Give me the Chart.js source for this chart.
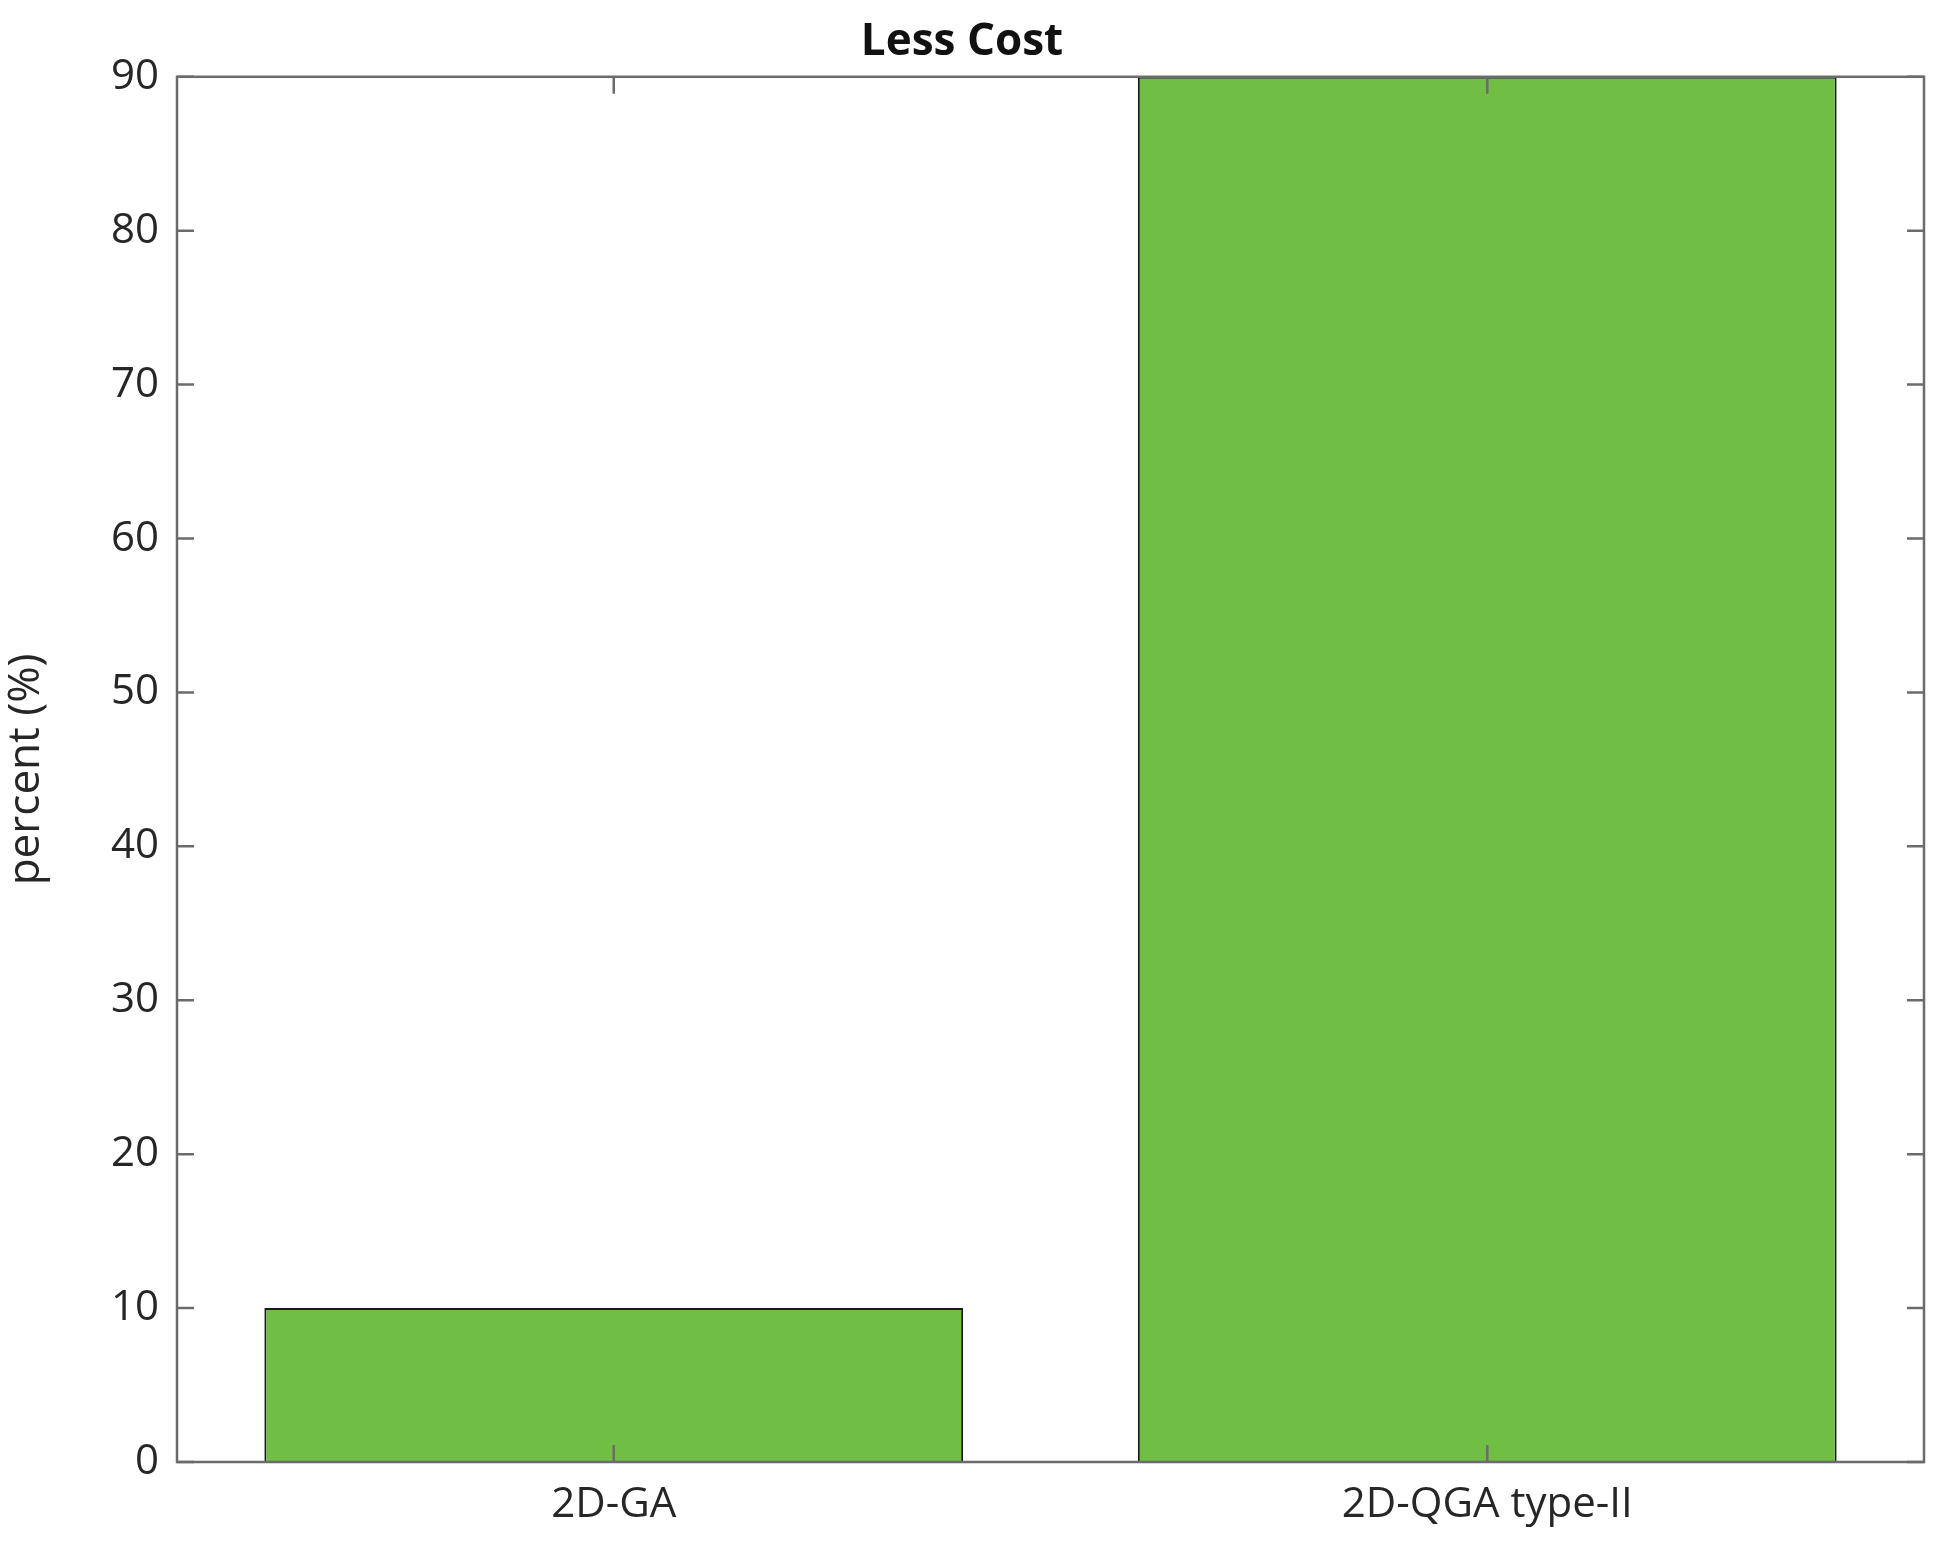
<!DOCTYPE html>
<html>
<head>
<meta charset="utf-8">
<script src="https://cdn.jsdelivr.net/npm/chart.js@4"></script>
<style>
  html, body { margin: 0; padding: 0; background: #fff; }
  #wrap { width: 1943px; height: 1560px; }
</style>
</head>
<body>
<div id="wrap"><canvas id="lessCostChart"></canvas></div>
<script>
const categories = ['2D-GA', '2D-QGA type-II'];
const percentValues = [10, 90];
const yTicks = [0, 10, 20, 30, 40, 50, 60, 70, 80, 90];

const textColor = '#262626';
const frameColor = '#6b6b6b';

// draws the box around the plot and MATLAB-style inward ticks
const framePlugin = {
    id: 'frame',
    afterDatasetsDraw(chart) {
        const { ctx, chartArea: a, scales } = chart;
        ctx.save();
        ctx.strokeStyle = frameColor;
        ctx.lineWidth = 2.5;
        ctx.strokeRect(a.left, a.top, a.right - a.left, a.bottom - a.top);
        const len = 17;
        yTicks.forEach(v => {
            const y = scales.y.getPixelForValue(v);
            ctx.beginPath();
            ctx.moveTo(a.left, y); ctx.lineTo(a.left + len, y);
            ctx.moveTo(a.right, y); ctx.lineTo(a.right - len, y);
            ctx.stroke();
        });
        categories.forEach((c, i) => {
            const x = scales.x.getPixelForValue(i);
            ctx.beginPath();
            ctx.moveTo(x, a.bottom); ctx.lineTo(x, a.bottom - len);
            ctx.moveTo(x, a.top); ctx.lineTo(x, a.top + len);
            ctx.stroke();
        });
        ctx.restore();
    }
};

new Chart(document.getElementById('lessCostChart'), {
    type: 'bar',
    data: {
        labels: categories,
        datasets: [{
            label: 'percent',
            data: percentValues,
            backgroundColor: '#70bf44',
            borderColor: '#1a1a1a',
            borderWidth: 2,
            barPercentage: 0.8,
            categoryPercentage: 1.0
        }]
    },
    options: {
        responsive: true,
        maintainAspectRatio: false,
        animation: false,
        layout: { padding: { right: 19, left: 0, top: 0, bottom: 0 } },
        plugins: {
            legend: { display: false },
            tooltip: { enabled: false },
            title: {
                display: true,
                text: 'Less Cost',
                color: '#111',
                font: { family: 'Open Sans', size: 44 },
                padding: { top: 16, bottom: 8 }
            }
        },
        scales: {
            x: {
                grid: { display: false, drawTicks: false },
                border: { display: false },
                ticks: { color: textColor, font: { family: 'Open Sans', size: 42 }, padding: 18 },
                afterFit(scale) { scale.height = 98; }
            },
            y: {
                min: 0,
                max: 90,
                grid: { display: false, drawTicks: false },
                border: { display: false },
                afterBuildTicks(scale) { scale.ticks = yTicks.map(v => ({ value: v })); },
                ticks: { color: textColor, font: { family: 'Open Sans', size: 42 }, padding: 18 },
                title: {
                    display: true,
                    text: 'percent (%)',
                    color: textColor,
                    font: { family: 'Open Sans', size: 44 },
                    padding: { top: 0, bottom: 6 }
                },
                afterFit(scale) { scale.width = 177; }
            }
        }
    },
    plugins: [framePlugin]
});
</script>
</body>
</html>
